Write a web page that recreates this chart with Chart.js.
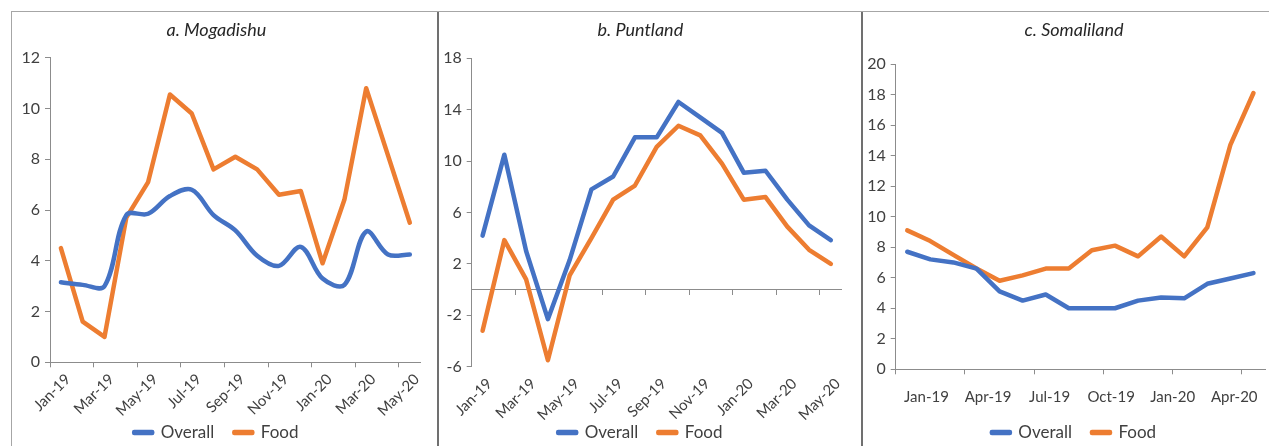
<!DOCTYPE html>
<html>
<head>
<meta charset="utf-8">
<script src="https://cdn.jsdelivr.net/npm/chart.js@4.4.1/dist/chart.umd.min.js"></script>
<style>
  body { margin: 0; width: 1269px; height: 446px; overflow: hidden; background: #fff; position: relative; }
  .frame { position: absolute; left: 11px; top: 11px; width: 1258px; height: 450px; border-top: 1px solid #a6a6a6; border-left: 1px solid #a6a6a6; }
  .divider { position: absolute; top: 12px; width: 2px; height: 440px; background: #707070; }
  .panel { position: absolute; top: 12px; height: 439px; }
</style>
</head>
<body>
<div class="frame"></div>
<div class="divider" style="left:437px"></div>
<div class="divider" style="left:861px"></div>
<div class="panel" style="left:12px;width:424px"><canvas id="mogadishu"></canvas></div>
<div class="panel" style="left:439px;width:421px"><canvas id="puntland"></canvas></div>
<div class="panel" style="left:863px;width:406px"><canvas id="somaliland"></canvas></div>

<script>
// month labels
const months17 = ['Jan-19', 'Feb-19', 'Mar-19', 'Apr-19', 'May-19', 'Jun-19', 'Jul-19', 'Aug-19', 'Sep-19',
  'Oct-19', 'Nov-19', 'Dec-19', 'Jan-20', 'Feb-20', 'Mar-20', 'Apr-20', 'May-20'];
const months16 = months17.slice(0, 16);
// quarter labels under the Somaliland panel
const quarters = ['Jan-19', 'Apr-19', 'Jul-19', 'Oct-19', 'Jan-20', 'Apr-20'];

// inflation, % (year on year)
const mogOverall = [3.15, 3.05, 3.0, 5.8, 5.85, 6.55, 6.8, 5.8, 5.2, 4.2, 3.8, 4.55, 3.3, 3.05, 5.15, 4.25, 4.25];
const mogFood = [4.5, 1.6, 1.0, 5.7, 7.1, 10.55, 9.8, 7.6, 8.1, 7.6, 6.6, 6.75, 3.9, 6.4, 10.8, 8.15, 5.5];

const puntOverall = [4.2, 10.5, 3.0, -2.3, 2.3, 7.8, 8.8, 11.85, 11.85, 14.6, 13.4, 12.2, 9.1, 9.25, 7.0, 5.0, 3.85];
const puntFood = [-3.2, 3.85, 0.8, -5.5, 1.1, 4.0, 7.0, 8.1, 11.1, 12.75, 12.0, 9.8, 7.0, 7.2, 4.9, 3.1, 2.0];

const somOverall = [7.7, 7.2, 7.0, 6.6, 5.1, 4.5, 4.9, 4.0, 4.0, 4.0, 4.5, 4.7, 4.65, 5.6, 5.95, 6.3];
const somFood = [9.1, 8.4, 7.5, 6.6, 5.8, 6.15, 6.6, 6.6, 7.8, 8.1, 7.4, 8.7, 7.4, 9.3, 14.7, 18.1];

const BLUE = '#4472c4';
const ORANGE = '#ed7d31';
const AXIS = '#8c8c8c';
const TEXT = '#404040';

Chart.defaults.font.family = 'Lato, "Open Sans", sans-serif';
Chart.defaults.color = TEXT;
Chart.defaults.animation = false;

// tick labels are clipped to their scale box; widen the boxes once the layout is done
// so the rotated month labels and the y labels are not cut off
const spillLabels = {
  id: 'spillLabels',
  afterLayout(chart) {
    Object.values(chart.scales).forEach((s) => {
      if (s.isHorizontal()) s.bottom = chart.height;
      else s.left = 0;
    });
  }
};

function series(label, data, color, tension) {
  return {
    label: label,
    data: data,
    borderColor: color,
    backgroundColor: color,
    borderWidth: 4.5,
    borderCapStyle: 'round',
    borderJoinStyle: 'round',
    pointRadius: 0,
    tension: tension || 0
  };
}

function yAxis(min, max, step, width) {
  return {
    min: min, max: max,
    border: { color: AXIS },
    grid: { drawOnChartArea: false, tickLength: 5, tickColor: AXIS },
    ticks: { stepSize: step, padding: 5, font: { size: 16 } },
    afterFit: (s) => { s.width = width; }
  };
}

// category axis with a tick mark and a label on every n-th category
function xAxis(every, height, o) {
  const axis = {
    type: 'category',
    position: o.position || 'bottom',
    offset: true,
    border: { display: o.line !== false, color: AXIS },
    grid: {
      offset: true,
      drawOnChartArea: false,
      drawTicks: o.marks !== false,
      tickLength: 5,
      tickColor: (c) => (c.index % every === 0 ? AXIS : 'rgba(0,0,0,0)')
    },
    ticks: {
      display: o.labels !== false,
      autoSkip: false,
      maxRotation: o.rotation || 0,
      minRotation: o.rotation || 0,
      padding: o.padding || 0,
      labelOffset: o.shift || 0,
      font: { size: 15 },
      callback: function (v, i) { return i % every === 0 ? this.getLabelForValue(v) : ''; }
    },
    afterFit: (s) => { s.height = height; s.paddingLeft = 0; s.paddingRight = 0; }
  };
  if (o.list) axis.labels = o.list;
  return axis;
}

function plugins(title, titleBottom) {
  return {
    title: {
      display: true,
      text: title,
      color: '#262626',
      font: { size: 18, style: 'italic', weight: 'normal' },
      padding: { top: 7, bottom: titleBottom }
    },
    legend: {
      position: 'bottom',
      labels: { boxWidth: 18, boxHeight: 1, padding: 20, color: TEXT, font: { size: 17 } }
    },
    tooltip: { enabled: false }
  };
}

// a. Mogadishu
new Chart(document.getElementById('mogadishu'), {
  type: 'line',
  data: {
    labels: months17,
    datasets: [series('Overall', mogOverall, BLUE, 0.35), series('Food', mogFood, ORANGE)]
  },
  options: {
    responsive: true,
    maintainAspectRatio: false,
    layout: { padding: { left: 0, right: 15.3, top: 0, bottom: 0 } },
    scales: {
      x: xAxis(2, 41.7, { rotation: 45, padding: 3, shift: 7 }),
      y: yAxis(0, 12, 2, 38)
    },
    plugins: plugins('a. Mogadishu', 17.1)
  },
  plugins: [spillLabels]
});

// b. Puntland: axis line through zero, month labels along the bottom
new Chart(document.getElementById('puntland'), {
  type: 'line',
  data: {
    labels: months17,
    datasets: [series('Overall', puntOverall, BLUE), series('Food', puntFood, ORANGE)]
  },
  options: {
    responsive: true,
    maintainAspectRatio: false,
    layout: { padding: { left: 0, right: 18.3, top: 0, bottom: 0 } },
    scales: {
      x: xAxis(2, 0, { position: { y: 0 }, labels: false }),
      x2: xAxis(2, 37.3, { line: false, marks: false, rotation: 45, padding: 8, shift: 7 }),
      y: yAxis(-6, 18, 4, 32.7)
    },
    plugins: plugins('b. Puntland', 17.7)
  },
  plugins: [spillLabels]
});

// c. Somaliland: tick marks every quarter, quarter labels on their own axis
new Chart(document.getElementById('somaliland'), {
  type: 'line',
  data: {
    labels: months16,
    datasets: [series('Overall', somOverall, BLUE), series('Food', somFood, ORANGE)]
  },
  options: {
    responsive: true,
    maintainAspectRatio: false,
    layout: { padding: { left: 20, right: 4, top: 0, bottom: 0 } },
    scales: {
      x: xAxis(3, 0, { labels: false }),
      x2: xAxis(1, 34.7, { list: quarters, line: false, marks: false, padding: 19 }),
      y: yAxis(0, 20, 2, 12.7)
    },
    plugins: plugins('c. Somaliland', 23.4)
  },
  plugins: [spillLabels]
});
</script>
</body>
</html>
